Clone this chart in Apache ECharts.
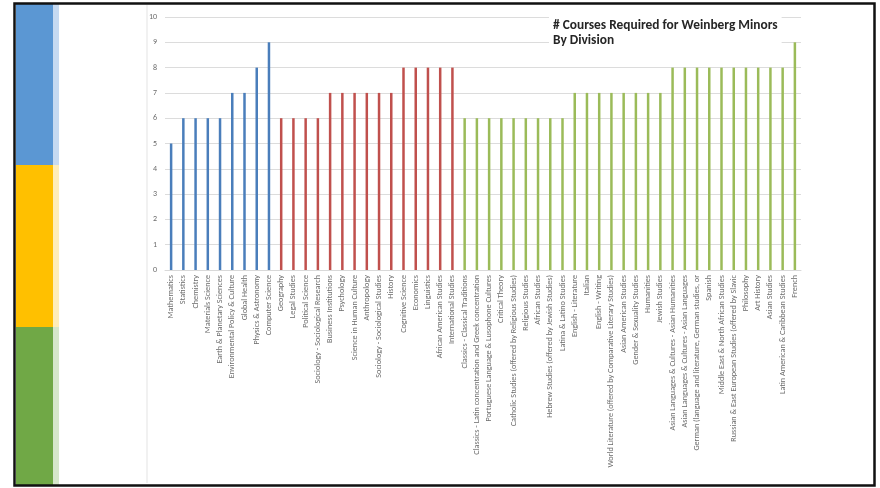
<!DOCTYPE html>
<html><head><meta charset="utf-8">
<script src="https://cdn.jsdelivr.net/npm/echarts@6/dist/echarts.min.js"></script>
<style>html,body{margin:0;padding:0;background:#fff}#c{width:880px;height:488px}</style>
</head><body><div id="c"></div>
<script>
const categories = [
  "Mathematics","Statistics","Chemistry","Materials Science","Earth & Planetary Sciences","Environmental Policy & Culture","Global Health","Physics & Astronomy","Computer Science",
  "Geography","Legal Studies","Political Science","Sociology - Sociological Research","Business Institutions","Psychology","Science in Human Culture","Anthropology","Sociology - Sociological Studies","History","Cognitive Science","Economics","Linguistics","African American Studies","International Studies",
  "Classics - Classical Traditions","Classics - Latin concentration and Greek concentration","Portuguese Language & Lusophone Cultures","Critical Theory","Catholic Studies (offered by Religious Studies)","Religious Studies","African Studies","Hebrew Studies (offered by Jewish Studies)","Latina & Latino Studies","English - Literature","Italian","English - Writing","World Literature (offered by Comparative Literary Studies)","Asian American Studies","Gender & Sexuality Studies","Humanities","Jewish Studies","Asian Languages & Cultures - Asian Humanities","Asian Languages & Cultures - Asian Languages","German (language and literature, German studies, or","Spanish","Middle East & North African Studies","Russian & East European Studies (offered by Slavic","Philosophy","Art History","Asian Studies","Latin American & Caribbean Studies","French"
];
const courses = [
  5,6,6,6,6,7,7,8,9,
  6,6,6,6,7,7,7,7,7,7,8,8,8,8,8,
  6,6,6,6,6,6,6,6,6,7,7,7,7,7,7,7,7,8,8,8,8,8,8,8,8,8,8,9
];
const division = [
  "S","S","S","S","S","S","S","S","S",
  "SS","SS","SS","SS","SS","SS","SS","SS","SS","SS","SS","SS","SS","SS","SS",
  "H","H","H","H","H","H","H","H","H","H","H","H","H","H","H","H","H","H","H","H","H","H","H","H","H","H","H","H"
];
const yTicks = [0,1,2,3,4,5,6,7,8,9,10];
const divisionColors = {S:"#4a7ebb", SS:"#c0504d", H:"#9bbb59"};
const FONT = 'Carlito, "Open Sans", "Liberation Sans", sans-serif';

const chart = echarts.init(document.getElementById('c'), null, {renderer:'canvas'});
chart.setOption({
  animation:false,
  backgroundColor:'#fff',
  title:{
    text:'# Courses Required for Weinberg Minors\nBy Division',
    left:549, top:15,
    backgroundColor:'#fff',
    padding:[3,4,2,4],
    textStyle:{fontFamily:FONT, fontSize:13.4, fontWeight:'bold', color:'#262626', lineHeight:15}
  },
  graphic:[
    {type:'rect', shape:{x:16,y:4,width:37,height:161}, style:{fill:'#5b97d3'}},
    {type:'rect', shape:{x:53,y:4,width:6,height:161}, style:{fill:'#c6daf1'}},
    {type:'rect', shape:{x:16,y:165,width:37,height:162}, style:{fill:'#ffc000'}},
    {type:'rect', shape:{x:53,y:165,width:6,height:162}, style:{fill:'#ffedb8'}},
    {type:'rect', shape:{x:16,y:327,width:37,height:158}, style:{fill:'#70a846'}},
    {type:'rect', shape:{x:53,y:327,width:6,height:158}, style:{fill:'#d6e7cb'}},
    {type:'line', shape:{x1:147,y1:5,x2:147,y2:483}, style:{stroke:'#e3e3e3', lineWidth:1}},
    {type:'rect', shape:{x:14.5,y:3.5,width:860,height:482}, style:{fill:'none', stroke:'#111', lineWidth:2.5}}
  ],
  grid:{left:165, right:79, top:17, bottom:218, containLabel:false, outerBoundsMode:'none'},
  xAxis:{
    type:'category', data:categories,
    axisLine:{lineStyle:{color:'#d9d9d9'}},
    axisTick:{show:false},
    axisLabel:{interval:0, rotate:90, fontSize:8.2, color:'#6b6b6b', margin:5, fontFamily:FONT}
  },
  yAxis:{
    type:'value', min:yTicks[0], max:yTicks[yTicks.length-1], interval:1,
    axisLine:{show:false}, axisTick:{show:false},
    splitLine:{lineStyle:{color:'#dcdcdc'}},
    axisLabel:{fontSize:8, color:'#6b6b6b', margin:8, fontFamily:FONT}
  },
  series:[{
    type:'bar',
    barWidth:2.5,
    data:courses.map((v,i)=>({value:v, itemStyle:{color:divisionColors[division[i]]}}))
  }]
});
</script></body></html>
